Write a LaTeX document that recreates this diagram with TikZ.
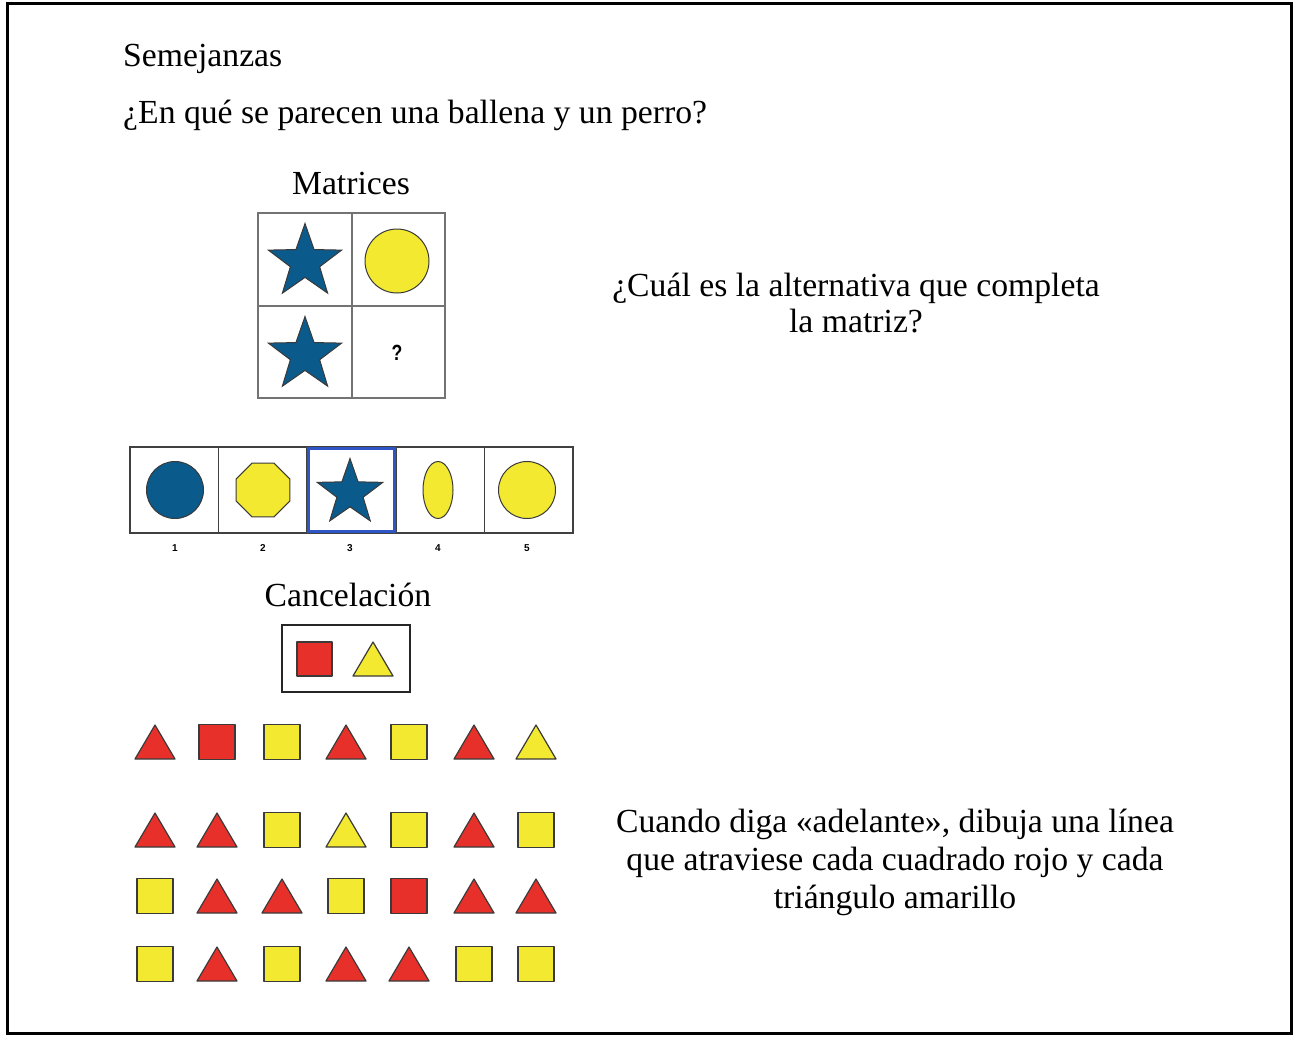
\documentclass[tikz,border=0pt]{standalone}
\usepackage{fontspec}
\setmainfont{Liberation Serif}
\setsansfont{Liberation Sans}
\usetikzlibrary{shapes.geometric}
\definecolor{sred}{HTML}{E8302A}
\definecolor{syel}{HTML}{F2E930}
\definecolor{sblue}{HTML}{0B5A8C}
\definecolor{boxblue}{HTML}{2F55C4}
\definecolor{edge}{HTML}{3A3A3A}
\newcommand\mytri[3]{\filldraw[shp, fill=#3] (#1-20,#2+17) -- (#1,#2-17) -- (#1+20,#2+17) -- cycle;}
\newcommand\mysq[3]{\filldraw[shp, fill=#3] (#1-18,#2-17.5) rectangle (#1+18,#2+17.5);}
\begin{document}
\begin{tikzpicture}[x=1pt,y=-1pt,
  shp/.style={draw=edge, line width=1.2pt, line join=round},
  txt/.style={font=\fontsize{33.7}{38}\selectfont, inner sep=0pt},
  cell/.style={draw=black!55, line width=1.5pt},
  starnode/.style={star, star points=5, star point ratio=2.5, draw=edge, line width=1pt, fill=sblue, inner sep=0pt},
  dot/.style={circle, draw=edge, line width=1pt, inner sep=0pt},
  num/.style={font=\fontsize{10}{10}\sffamily\bfseries, inner sep=0pt}
]
\useasboundingbox (0,0) rectangle (1295,1037);
\draw[line width=3pt] (7,3) rectangle (1291,1033);

% texts
\node[txt, anchor=base west] (t1) at (123,66) {Semejanzas};
\node[txt, anchor=base west] (t2) at (123,123) {¿En qué se parecen una ballena y un perro?};
\node[txt, anchor=base] (t3) at (351,194) {Matrices};
\node[txt, anchor=base] (t4) at (856,296) {¿Cuál es la alternativa que completa};
\node[txt, anchor=base] (t5) at (856,332) {la matriz?};
\node[txt, anchor=base] (t6) at (348,606) {Cancelación};
\node[txt, anchor=base] (t7) at (895,832) {Cuando diga «adelante», dibuja una línea};
\node[txt, anchor=base] (t8) at (895,870) {que atraviese cada cuadrado rojo y cada};
\node[txt, anchor=base] (t9) at (895,908) {triángulo amarillo};

% matrix
\draw[cell] (258,213) rectangle (445,398);
\draw[cell] (352,213) -- (352,398);
\draw[cell] (258,306) -- (445,306);
\node[starnode, minimum size=77pt] (m1) at (305,262) {};
\node[dot, fill=syel, minimum size=64pt] (m2) at (397,261) {};
\node[starnode, minimum size=77pt] (m3) at (305,355) {};
\node[font=\fontsize{22}{22}\sffamily\bfseries, inner sep=0pt, xscale=0.8] (q) at (397,353) {?};

% alternatives
\draw[cell, draw=black!75] (130,447) rectangle (573,533);
\foreach \xx in {218.6,307,395.8,484.4} {\draw[cell, draw=black!75] (\xx,447) -- (\xx,533);}
\draw[draw=boxblue, line width=3pt] (308.5,448.5) rectangle (394.3,531.5);
\node[dot, fill=sblue, minimum size=57pt] (a1) at (175,490) {};
\node[regular polygon, regular polygon sides=8, draw=edge, line width=1pt, fill=syel, inner sep=0pt, minimum size=58pt] (a2) at (263,490) {};
\node[starnode, minimum size=69pt] (a3) at (350,493) {};
\node[ellipse, draw=edge, line width=1pt, fill=syel, inner sep=0pt, minimum width=30pt, minimum height=57pt] (a4) at (438,490) {};
\node[dot, fill=syel, minimum size=57pt] (a5) at (527,490) {};
\node[num] (n1) at (175,548) {1};
\node[num] (n2) at (263,548) {2};
\node[num] (n3) at (350,548) {3};
\node[num] (n4) at (438,548) {4};
\node[num] (n5) at (527,548) {5};

% cancellation key
\draw[line width=2.5pt, draw=black!85] (282,625) rectangle (410,692);
\filldraw[shp, fill=sred] (297,642) rectangle (332,676);
\filldraw[shp, fill=syel] (353,676) -- (373,642) -- (393,676) -- cycle;

% row 1
\mytri{155}{742}{sred} \mysq{217}{742}{sred} \mysq{282}{742}{syel} \mytri{346}{742}{sred}
\mysq{409}{742}{syel} \mytri{474}{742}{sred} \mytri{536}{742}{syel}
% row 2
\mytri{155}{830}{sred} \mytri{217}{830}{sred} \mysq{282}{830}{syel} \mytri{346}{830}{syel}
\mysq{409}{830}{syel} \mytri{474}{830}{sred} \mysq{536}{830}{syel}
% row 3
\mysq{155}{896}{syel} \mytri{217}{896}{sred} \mytri{282}{896}{sred} \mysq{346}{896}{syel}
\mysq{409}{896}{sred} \mytri{474}{896}{sred} \mytri{536}{896}{sred}
% row 4
\mysq{155}{964}{syel} \mytri{217}{964}{sred} \mysq{282}{964}{syel} \mytri{346}{964}{sred}
\mytri{409}{964}{sred} \mysq{474}{964}{syel} \mysq{536}{964}{syel}
\end{tikzpicture}
\end{document}
